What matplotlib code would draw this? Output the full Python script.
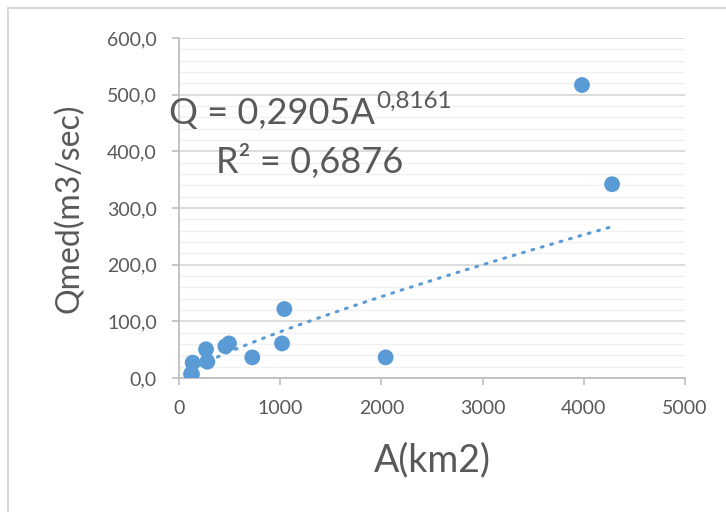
import numpy as np
import matplotlib
matplotlib.use("Agg")
import matplotlib.pyplot as plt
from matplotlib.ticker import MultipleLocator, FuncFormatter
from matplotlib.patches import Rectangle

# Data
area_km2 = [119, 128, 135, 267, 280, 458, 494, 724, 1018, 1041, 2042, 3982, 4279]
q_med = [7, 6.5, 27, 50.6, 28.8, 56, 61, 36.4, 61, 121.7, 36.4, 517, 342]
coef_a = 0.2905
coef_b = 0.8161
r2 = 0.6876
x_ticks = [0, 1000, 2000, 3000, 4000, 5000]
y_ticks = [0, 100, 200, 300, 400, 500, 600]

FONT = "Lato"
GREY_TXT = "#595959"
BLUE = "#5b9bd5"

plt.rcParams['font.family'] = [FONT, 'DejaVu Sans']

W, H = 726, 512
fig = plt.figure(figsize=(W / 100, H / 100), dpi=100)
fig.patch.set_facecolor("white")

# outer chart frame
fig.patches.append(Rectangle((8 / W, -0.05), 1.1, 1 - 8 / H + 0.05, transform=fig.transFigure,
                             fill=False, edgecolor="#d9d9d9", linewidth=1.5, zorder=0))

left, right, top, bottom = 179, 685, 38, 378
ax = fig.add_axes([left / W, 1 - bottom / H, (right - left) / W, (bottom - top) / H])

ax.set_xlim(0, 5000)
ax.set_ylim(0, 600)
ax.set_xticks(x_ticks)
ax.set_yticks(y_ticks)
ax.yaxis.set_minor_locator(MultipleLocator(20))
ax.xaxis.set_major_formatter(FuncFormatter(lambda v, p: f"{int(v)}"))
ax.yaxis.set_major_formatter(FuncFormatter(lambda v, p: f"{v:.1f}".replace(".", ",")))

ax.grid(True, which="major", axis="y", color="#d9d9d9", linewidth=1.3, zorder=0)
ax.grid(True, which="minor", axis="y", color="#f0f0f0", linewidth=1.0, zorder=0)
ax.set_axisbelow(True)

for s in ["top", "right"]:
    ax.spines[s].set_visible(False)
for s in ["left", "bottom"]:
    ax.spines[s].set_color("#bfbfbf")
    ax.spines[s].set_linewidth(1.3)

ax.tick_params(axis="both", which="major", color="#bfbfbf", length=5, width=1.2,
               labelsize=14, labelcolor=GREY_TXT, pad=11)
ax.tick_params(axis="y", which="minor", length=0)

# trendline (power fit)
xs = np.linspace(min(area_km2), max(area_km2), 300)
ax.plot(xs, coef_a * xs ** coef_b, linestyle=(0, (0.6, 2.6)), color=BLUE, linewidth=2.2,
        dash_capstyle="round", zorder=2)

ax.scatter(area_km2, q_med, s=130, color=BLUE, edgecolors="none", zorder=3)

ax.set_xlabel("A(km2)", fontsize=27, color=GREY_TXT, labelpad=18)
ax.set_ylabel("Qmed(m3/sec)", fontsize=23, color=GREY_TXT, labelpad=16)

# equation text
eq_main = fig.text(169 / W, 1 - 124 / H, "Q = 0,2905A", fontsize=26, color=GREY_TXT,
                   ha="left", va="baseline")
fig.canvas.draw()
bb = eq_main.get_window_extent()
fig.text(bb.x1 / W + 1 / W, 1 - 108 / H, "0,8161", fontsize=17.5,
         color=GREY_TXT, ha="left", va="baseline")
fig.text(216 / W, 1 - 173 / H, f"R² = {r2:.4f}".replace(".", ","), fontsize=26,
         color=GREY_TXT, ha="left", va="baseline")

fig.savefig("out.png", dpi=100)
